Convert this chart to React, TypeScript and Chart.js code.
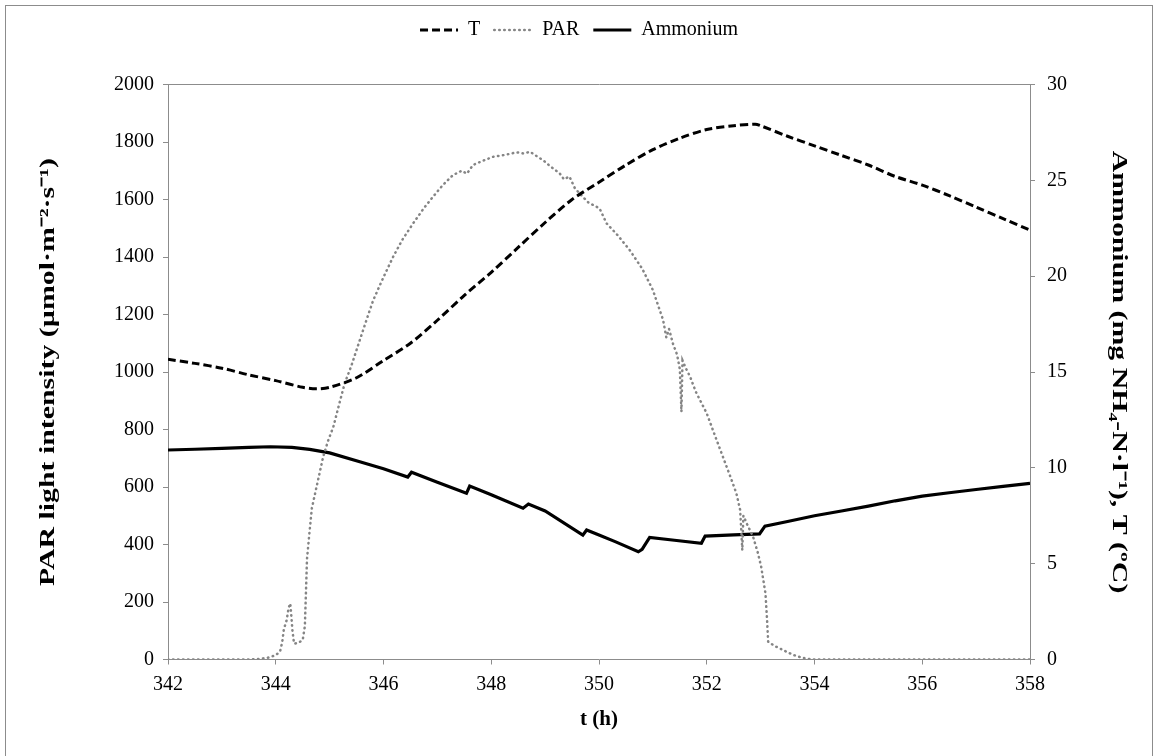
import React, { useEffect, useRef } from "react";
import { Chart, registerables } from "chart.js";

Chart.register(...registerables);

// ---- Data ----
const tempTime = [342, 342.5, 343, 343.5, 344, 344.5, 344.75, 345, 345.5, 346, 346.5, 347, 347.5, 348, 348.5, 349, 349.5, 350, 350.5, 351, 351.5, 352, 352.5, 352.9, 353, 353.5, 354, 354.5, 355, 355.5, 356, 356.5, 357, 357.5, 358];
const tempValue = [15.66, 15.45, 15.2, 14.85, 14.55, 14.2, 14.12, 14.2, 14.7, 15.6, 16.5, 17.7, 19.0, 20.2, 21.5, 22.8, 24.0, 24.9, 25.8, 26.6, 27.2, 27.65, 27.85, 27.93, 27.85, 27.3, 26.8, 26.3, 25.8, 25.2, 24.75, 24.2, 23.6, 23.0, 22.4];

const parTime = [342, 343, 343.5, 343.7, 343.85, 344.0, 344.08, 344.12, 344.15, 344.2, 344.24, 344.27, 344.29, 344.31, 344.34, 344.42, 344.5, 344.54, 344.56, 344.58, 344.63, 344.67, 344.78, 344.88, 344.97, 345.07, 345.18, 345.28, 345.4, 345.56, 345.7, 345.81, 346.0, 346.18, 346.35, 346.55, 346.75, 346.92, 347.1, 347.29, 347.45, 347.55, 347.66, 347.85, 348.04, 348.25, 348.47, 348.6, 348.72, 348.85, 348.96, 349.1, 349.27, 349.35, 349.45, 349.55, 349.64, 349.8, 350.01, 350.14, 350.35, 350.57, 350.8, 351.0, 351.1, 351.19, 351.25, 351.3, 351.37, 351.45, 351.5, 351.53, 351.55, 351.62, 351.69, 351.8, 352.0, 352.15, 352.3, 352.45, 352.55, 352.62, 352.66, 352.68, 352.75, 352.86, 352.95, 353.01, 353.09, 353.12, 353.14, 353.25, 353.35, 353.5, 353.66, 353.85, 354, 356, 358];
const parValue = [0, 0, 0, 2, 6, 15, 28, 60, 105, 135, 180, 195, 150, 100, 55, 58, 68, 115, 230, 350, 450, 526, 620, 705, 760, 810, 890, 961, 1020, 1111, 1190, 1250, 1330, 1401, 1460, 1517, 1570, 1610, 1650, 1685, 1700, 1690, 1720, 1735, 1749, 1755, 1764, 1760, 1766, 1750, 1737, 1715, 1691, 1670, 1680, 1640, 1621, 1590, 1569, 1517, 1475, 1424, 1360, 1285, 1230, 1181, 1120, 1150, 1100, 1060, 1010, 862, 1040, 1010, 984, 930, 856, 780, 705, 630, 578, 520, 380, 500, 470, 427, 370, 323, 230, 137, 62, 48, 39, 25, 12, 3, 0, 0, 0];

const ammTime = [342, 342.5, 343, 343.5, 343.9, 344.3, 344.63, 345, 345.56, 346, 346.45, 346.52, 347, 347.54, 347.6, 348, 348.59, 348.69, 349, 349.7, 349.77, 350, 350.3, 350.73, 350.8, 350.94, 351.4, 351.9, 351.97, 352.5, 352.98, 353.08, 353.5, 354, 354.5, 355, 355.5, 356, 356.5, 357, 357.5, 358];
const ammValue = [10.93, 10.97, 11.02, 11.07, 11.1, 11.07, 10.96, 10.78, 10.32, 9.95, 9.52, 9.77, 9.25, 8.67, 9.05, 8.6, 7.89, 8.11, 7.75, 6.49, 6.76, 6.5, 6.15, 5.62, 5.75, 6.37, 6.22, 6.06, 6.44, 6.5, 6.55, 6.96, 7.2, 7.5, 7.75, 8.0, 8.28, 8.52, 8.7, 8.87, 9.03, 9.19];

const xTicks = [342, 344, 346, 348, 350, 352, 354, 356, 358];
const leftTicks = [0, 200, 400, 600, 800, 1000, 1200, 1400, 1600, 1800, 2000];
const rightTicks = [0, 5, 10, 15, 20, 25, 30];

const leftTitle = "PAR light intensity (µmol·m⁻²·s⁻¹)";
const rightTitle = "Ammonium (mg NH₄-N·l⁻¹), T (ºC)";
const xTitle = "t (h)";

const FONT = "'Liberation Serif', 'Times New Roman', serif";
const AXIS = "#8c8c8c";

function pts(xs: number[], ys: number[]) {
  return xs.map((x, i) => ({ x, y: ys[i] }));
}

// Draws the two rotated axis titles, stretched along their length as in the reference
const sideTitles = {
  id: "sideTitles",
  afterDraw(chart: any) {
    const { ctx, chartArea } = chart;
    const cy = (chartArea.top + chartArea.bottom) / 2;
    const draw = (text: string, x: number, rot: number) => {
      ctx.save();
      ctx.translate(x, cy);
      ctx.rotate(rot);
      ctx.scale(1.42, 1);
      ctx.font = `bold 21px ${FONT}`;
      ctx.fillStyle = "#000";
      ctx.textAlign = "center";
      ctx.textBaseline = "middle";
      ctx.fillText(text, 0, 0);
      ctx.restore();
    };
    draw(leftTitle, 43, -Math.PI / 2);
    draw(rightTitle, 1112, Math.PI / 2);
  },
};

export default function App() {
  const ref = useRef<HTMLCanvasElement | null>(null);

  useEffect(() => {
    if (!ref.current) return;
    const tickFont = { family: FONT, size: 20 };
    const titleFont = { family: FONT, size: 21, weight: "bold" as const };
    const chart = new Chart(ref.current, {
      type: "line",
      data: {
        datasets: [
          {
            label: "T",
            data: pts(tempTime, tempValue),
            yAxisID: "y1",
            borderColor: "#000",
            backgroundColor: "#000",
            borderWidth: 3,
            borderDash: [8, 4],
            pointRadius: 0,
            tension: 0.3,
          },
          {
            label: "PAR",
            data: pts(parTime, parValue),
            yAxisID: "y",
            borderColor: "#858585",
            backgroundColor: "#858585",
            borderWidth: 2.5,
            borderDash: [0.5, 4.5],
            borderCapStyle: "round",
            pointRadius: 0,
            tension: 0,
          },
          {
            label: "Ammonium",
            data: pts(ammTime, ammValue),
            yAxisID: "y1",
            borderColor: "#000",
            backgroundColor: "#000",
            borderWidth: 3.2,
            pointRadius: 0,
            tension: 0,
          },
        ],
      },
      plugins: [sideTitles],
      options: {
        animation: false,
        responsive: false,
        maintainAspectRatio: false,
        layout: { padding: 0 },
        plugins: {
          tooltip: { enabled: false },
          legend: {
            display: true,
            position: "top",
            labels: {
              usePointStyle: true,
              pointStyle: "line",
              pointStyleWidth: 38,
              padding: 14,
              color: "#000",
              font: { family: FONT, size: 20 },
              generateLabels: (c: any) =>
                c.data.datasets.map((ds: any, i: number) => ({
                  text: ds.label,
                  fillStyle: ds.borderColor,
                  strokeStyle: ds.borderColor,
                  lineWidth: ds.borderWidth,
                  lineDash: ds.borderDash || [],
                  lineCap: ds.borderCapStyle || "butt",
                  pointStyle: "line",
                  rotation: 0,
                  hidden: false,
                  fontColor: "#000",
                  datasetIndex: i,
                })),
            },
          },
        },
        scales: {
          x: {
            type: "linear",
            position: "bottom",
            min: 342,
            max: 358,
            afterBuildTicks: (s: any) => {
              s.ticks = xTicks.map((v) => ({ value: v }));
            },
            afterFit: (s: any) => {
              s.height = 96.5;
            },
            ticks: {
              color: "#000",
              font: tickFont,
              padding: 8,
              maxRotation: 0,
              autoSkip: false,
              callback: (v: any) => String(v),
            },
            grid: { drawOnChartArea: false, drawTicks: true, tickLength: 5, color: AXIS },
            border: { display: true, color: AXIS, width: 1 },
            title: { display: true, text: xTitle, color: "#000", font: titleFont, padding: { top: 0, bottom: 24 } },
          },
          x2: {
            type: "linear",
            position: "top",
            min: 342,
            max: 358,
            afterFit: (s: any) => {
              s.height = 34.5;
            },
            ticks: { display: false },
            grid: { display: false, drawTicks: false },
            border: { display: true, color: AXIS, width: 1 },
          },
          y: {
            type: "linear",
            position: "left",
            min: 0,
            max: 2000,
            afterBuildTicks: (s: any) => {
              s.ticks = leftTicks.map((v) => ({ value: v }));
            },
            afterFit: (s: any) => {
              s.width = 162;
            },
            ticks: { color: "#000", font: tickFont, padding: 9, callback: (v: any) => String(v) },
            grid: { drawOnChartArea: false, drawTicks: true, tickLength: 5, color: AXIS },
            border: { display: true, color: AXIS, width: 1 },
          },
          y1: {
            type: "linear",
            position: "right",
            min: 0,
            max: 30,
            afterBuildTicks: (s: any) => {
              s.ticks = rightTicks.map((v) => ({ value: v }));
            },
            afterFit: (s: any) => {
              s.width = 122;
            },
            ticks: { color: "#000", font: tickFont, padding: 12, callback: (v: any) => String(v) },
            grid: { drawOnChartArea: false, drawTicks: true, tickLength: 5, color: AXIS },
            border: { display: true, color: AXIS, width: 1 },
          },
        },
      },
    } as any);
    return () => chart.destroy();
  }, []);

  return (
    <div
      style={{
        position: "fixed",
        left: 5,
        top: 5,
        width: 1146,
        height: 760,
        border: `1px solid ${AXIS}`,
        background: "#fff",
        boxSizing: "content-box",
      }}
    >
      <canvas ref={ref} width={1146} height={750} style={{ display: "block", width: 1146, height: 750 }} />
    </div>
  );
}
